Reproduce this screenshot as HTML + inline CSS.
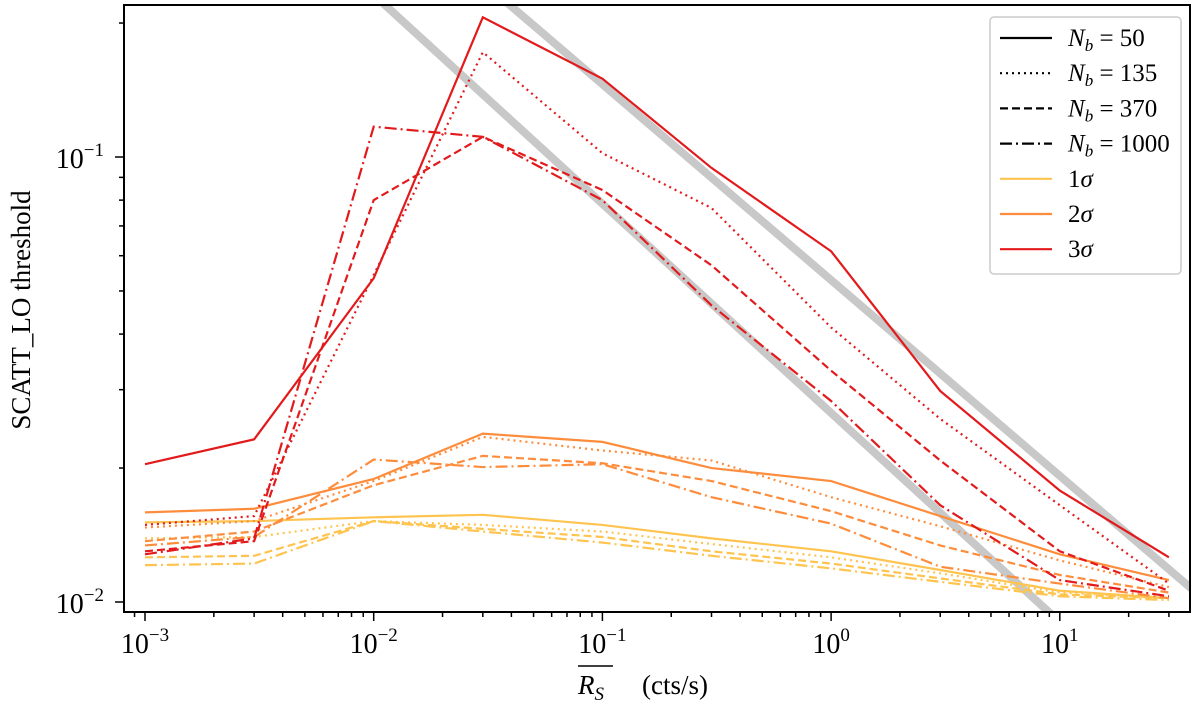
<!DOCTYPE html>
<html><head><meta charset="utf-8"><style>
body{margin:0;background:#fff;overflow:hidden}
svg{display:block}
svg text{font-family:"Liberation Serif","DejaVu Serif",serif;fill:#000}
</style></head><body>
<svg id="c" width="1200" height="707" viewBox="0 0 1200 707"></svg>
<script>
const xs=[0.001,0.003,0.01,0.03,0.1,0.3,1,3,10,30];
const s3_50=[0.0204,0.0232,0.0534,0.206,0.150,0.0945,0.0614,0.0298,0.0178,0.0126];
const s3_135=[0.0149,0.0156,0.0543,0.172,0.102,0.0768,0.0414,0.0258,0.0165,0.011];
const s3_370=[0.013,0.0137,0.080,0.111,0.0843,0.0571,0.0331,0.0208,0.013,0.0106];
const s3_1000=[0.0128,0.0139,0.117,0.111,0.080,0.0464,0.0283,0.0165,0.0112,0.0103];
const s2_50=[0.0159,0.0162,0.0189,0.0239,0.0229,0.020,0.0187,0.0156,0.0128,0.0112];
const s2_135=[0.0147,0.0152,0.0187,0.0235,0.0219,0.0208,0.0172,0.0148,0.0124,0.0108];
const s2_370=[0.0137,0.0144,0.0183,0.0213,0.0205,0.0187,0.016,0.0134,0.0115,0.0105];
const s2_1000=[0.0134,0.014,0.0209,0.0201,0.0204,0.0172,0.015,0.012,0.011,0.0102];
const s1_50=[0.0151,0.0152,0.0155,0.0157,0.0149,0.0139,0.013,0.0118,0.0106,0.0102];
const s1_135=[0.0139,0.014,0.0152,0.0149,0.0144,0.0135,0.0126,0.0116,0.0105,0.0102];
const s1_370=[0.0126,0.0127,0.0152,0.0146,0.0140,0.013,0.0122,0.0113,0.0104,0.0102];
const s1_1000=[0.0121,0.0122,0.0152,0.0144,0.0136,0.0127,0.0119,0.0111,0.0103,0.0101];
const grayAnchors=[0.0266,0.0529];
const graySlopes=[-0.47,-0.44];
const xTicks=[-3,-2,-1,0,1];
const yTicks=[-1,-2];

const L=124,R=1190,T=5,B=612;
const X=v=>145+(Math.log10(v)+3)*228.7;
const Y=v=>157-(Math.log10(v)+1)*445;
const NS='http://www.w3.org/2000/svg';
const svg=document.getElementById('c');
function mk(t,a,p){const e=document.createElementNS(NS,t);for(const k in a)e.setAttribute(k,a[k]);(p||svg).appendChild(e);return e;}
const defs=mk('defs',{});const cp=mk('clipPath',{id:'clip'},defs);mk('rect',{x:L,y:T,width:R-L,height:B-T},cp);
const g=mk('g',{'clip-path':'url(#clip)'});


grayAnchors.forEach((a,i)=>{
  const x0=1e-4,x1=1e3,s=graySlopes[i];
  const l=mk('line',{x1:X(x0),y1:Y(a*Math.pow(x0,s)),x2:X(x1),y2:Y(a*Math.pow(x1,s)),stroke:'#c8c8c8','stroke-width':8},g);
  
  
});
const dashes={'50':'','135':'2,4','370':'8,4','1000':'12,4,2,4'};
const cols={1:'#fec44f',2:'#fd8d3c',3:'#e31a1c'};
const series=[[1,'1000',s1_1000],[1,'370',s1_370],[1,'135',s1_135],[1,'50',s1_50],
[2,'1000',s2_1000],[2,'370',s2_370],[2,'135',s2_135],[2,'50',s2_50],
[3,'1000',s3_1000],[3,'370',s3_370],[3,'135',s3_135],[3,'50',s3_50]];
series.forEach(([s,n,d])=>{
  const p=mk('polyline',{points:xs.map((x,i)=>X(x)+','+Y(d[i])).join(' '),fill:'none',stroke:cols[s],'stroke-width':2.2,'stroke-dasharray':dashes[n]},g);
  
  
});
const fr=mk('rect',{x:L,y:T,width:R-L,height:B-T,fill:'none',stroke:'#000','stroke-width':2});


for(let e=-4;e<=2;e++)for(let m=1;m<10;m++){const v=m*Math.pow(10,e),x=X(v);if(x<L||x>R)continue;
  mk('line',{x1:x,y1:B,x2:x,y2:B+(m==1?9:5),stroke:'#000','stroke-width':1.5});}
xTicks.forEach(e=>{const t=mk('text',{x:X(Math.pow(10,e)),y:653,'font-size':28,'text-anchor':'middle'});
  
  
  t.innerHTML='10<tspan dy="-12" font-size="19">'+(e<0?'\u2212'+(-e):e)+'</tspan>';});
for(let e=-3;e<=0;e++)for(let m=1;m<10;m++){const v=m*Math.pow(10,e),y=Y(v);if(y<T||y>B)continue;
  mk('line',{x1:L,y1:y,x2:L-(m==1?9:5),y2:y,stroke:'#000','stroke-width':1.5});}
yTicks.forEach(e=>{const t=mk('text',{x:104,y:Y(Math.pow(10,e))+11,'font-size':28,'text-anchor':'end'});
  
  
  t.innerHTML='10<tspan dy="-12" font-size="19">\u2212'+(-e)+'</tspan>';});
const yt=mk('text',{x:30,y:310,'font-size':27,'text-anchor':'middle',transform:'rotate(-90 30 310)'});


yt.textContent='SCATT_LO threshold';
const xt=mk('text',{x:578,y:694,'font-size':27,'text-anchor':'start'});


xt.innerHTML='<tspan font-style="italic">R</tspan><tspan font-style="italic" font-size="19" dy="6">S</tspan><tspan dy="-6" x="642">(cts/s)</tspan>';
mk('line',{x1:578,y1:666,x2:613,y2:666,stroke:'#000','stroke-width':1.5});
const lg=mk('g',{});


mk('rect',{x:990,y:17,width:191,height:257,rx:4,fill:'#fff',stroke:'#ccc','stroke-width':1.5},lg);
const items=[['50','#000','<tspan font-style="italic">N</tspan><tspan font-style="italic" font-size="17" dy="5">b</tspan><tspan dy="-5"> = 50</tspan>'],
['135','#000','<tspan font-style="italic">N</tspan><tspan font-style="italic" font-size="17" dy="5">b</tspan><tspan dy="-5"> = 135</tspan>'],
['370','#000','<tspan font-style="italic">N</tspan><tspan font-style="italic" font-size="17" dy="5">b</tspan><tspan dy="-5"> = 370</tspan>'],
['1000','#000','<tspan font-style="italic">N</tspan><tspan font-style="italic" font-size="17" dy="5">b</tspan><tspan dy="-5"> = 1000</tspan>'],
['50',cols[1],'1<tspan font-style="italic">σ</tspan>'],['50',cols[2],'2<tspan font-style="italic">σ</tspan>'],['50',cols[3],'3<tspan font-style="italic">σ</tspan>']];
items.forEach((it,i)=>{const y=38+i*35.2;
  const e=mk('g',{},lg);
  
  
  mk('line',{x1:1000,y1:y,x2:1052,y2:y,stroke:it[1],'stroke-width':2.2,'stroke-dasharray':dashes[it[0]]},e);
  const t=mk('text',{x:1068,y:y+8,'font-size':25},e);t.innerHTML=it[2];});
</script>
</body></html>
